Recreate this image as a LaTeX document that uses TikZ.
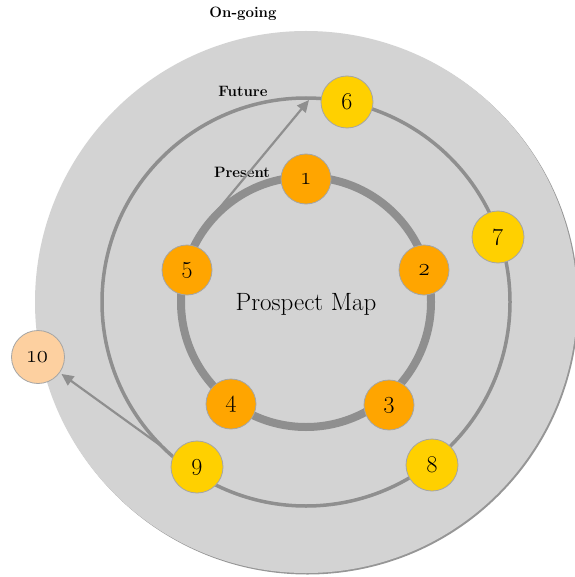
\documentclass[tikz,border=0pt]{standalone}
\usepackage{fontspec}
\usetikzlibrary{arrows.meta}
\newfontfamily\osf{Latin Modern Roman}[Numbers=OldStyle]
\definecolor{bgray}{RGB}{211,211,211}
\definecolor{rgray}{RGB}{143,143,143}
\definecolor{sgray}{RGB}{150,150,150}
\definecolor{orng}{RGB}{255,165,0}
\definecolor{yllw}{RGB}{255,208,0}
\definecolor{peach}{RGB}{253,208,160}
\definecolor{nborder}{RGB}{165,165,165}
\tikzset{
  num/.style={circle, draw=nborder, line width=0.8pt, minimum size=#1, inner sep=0pt,
    font=\osf\fontsize{24}{24}\selectfont},
  pres/.style={num=50pt, fill=orng},
  fut/.style={num=52pt, fill=yllw},
  ext/.style={num=53pt, fill=peach},
  lbl/.style={font=\bfseries\fontsize{15}{15}\selectfont},
  conn/.style={draw=rgray, line width=2.2pt, -{Triangle[length=12pt,width=11pt]}}
}
\begin{document}
\begin{tikzpicture}[x=1pt,y=-1pt]
\useasboundingbox (0,0) rectangle (574,577);
\coordinate (c) at (306,302);
% on-going disc with shadow
\fill[sgray] (307.5,303.5) circle[radius=271pt];
\fill[bgray] (c) circle[radius=271pt];
% rings
\draw[rgray, line width=3.5pt] (c) circle[radius=204pt];
\draw[rgray, line width=8pt] (c) circle[radius=125pt];
% labels
\node[lbl] (ongoing) at (243,14) {On-going};
\node[lbl] (future) at (243,91) {Future};
\node[lbl] (present) at (242,172) {Present};
\node[font=\fontsize{25}{25}\selectfont] (title) at (306,304) {Prospect Map};
% connector endpoints
\coordinate (p1) at (217,211);
\coordinate (f1) at (309,100);
\coordinate (f2) at (164,448);
% nodes
\node[ext] (n10) at (38,357) {10};
\draw[conn] (p1) -- (f1);
\draw[conn, shorten >=2pt] (f2) -- (n10);
\node[pres] (n1) at (306,179) {1};
\node[pres] (n2) at (424,270) {2};
\node[pres] (n3) at (389,405) {3};
\node[pres] (n4) at (231,404) {4};
\node[pres] (n5) at (187,270) {5};
\node[fut] (n6) at (347,102) {6};
\node[fut] (n7) at (498,237) {7};
\node[fut] (n8) at (432,465) {8};
\node[fut] (n9) at (197,467) {9};
\end{tikzpicture}
\end{document}
